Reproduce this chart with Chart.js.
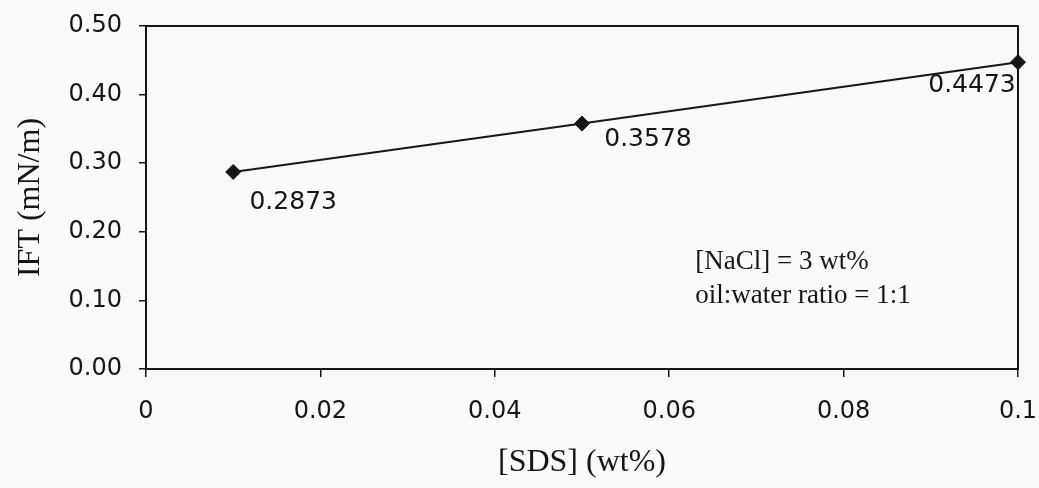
<!DOCTYPE html>
<html>
<head>
<meta charset="utf-8">
<script src="https://cdn.jsdelivr.net/npm/chart.js@4.4.1/dist/chart.umd.min.js"></script>
<style>
  html, body { margin: 0; padding: 0; background: #f9f9f9; }
  #wrap { width: 1039px; height: 488px; position: relative; }
</style>
</head>
<body>
<div id="wrap"><canvas id="c" width="1039" height="488"></canvas></div>
<script>
// SDS concentration (wt%) and measured interfacial tension (mN/m)
const sdsConc = [0.01, 0.05, 0.1];
const iftValues = [0.2873, 0.3578, 0.4473];

// Axis ticks
const xTickValues = [0, 0.02, 0.04, 0.06, 0.08, 0.1];
const xTickLabels = ['0', '0.02', '0.04', '0.06', '0.08', '0.1'];
const yTickValues = [0, 0.1, 0.2, 0.3, 0.4, 0.5];
const yTickLabels = ['0.00', '0.10', '0.20', '0.30', '0.40', '0.50'];

// Condition notes
const noteLines = ['[NaCl] = 3 wt%', 'oil:water ratio = 1:1'];

const INK = '#161616';

// Frame around the plot area (top and right edges included)
const frame = {
  id: 'frame',
  afterDatasetsDraw(chart) {
    const { ctx, chartArea: a } = chart;
    ctx.save();
    ctx.strokeStyle = INK;
    ctx.lineWidth = 2;
    ctx.strokeRect(a.left, a.top, a.right - a.left, a.bottom - a.top);
    ctx.restore();
  }
};

// Value labels next to each point
const valueLabels = {
  id: 'valueLabels',
  afterDatasetsDraw(chart, args, opts) {
    const { ctx } = chart;
    const meta = chart.getDatasetMeta(0);
    ctx.save();
    ctx.font = opts.font;
    ctx.fillStyle = INK;
    ctx.textAlign = 'center';
    ctx.textBaseline = 'middle';
    meta.data.forEach((pt, i) => {
      const v = chart.data.datasets[0].data[i].y;
      const [dx, dy] = opts.offsets[i];
      ctx.fillText(v.toFixed(4), pt.x + dx, pt.y + dy);
    });
    ctx.restore();
  }
};

// Experimental conditions note inside the plot
const note = {
  id: 'note',
  afterDatasetsDraw(chart, args, opts) {
    const { ctx, scales } = chart;
    const x = scales.x.getPixelForValue(opts.x);
    const y = scales.y.getPixelForValue(opts.y);
    ctx.save();
    ctx.font = opts.font;
    ctx.fillStyle = INK;
    ctx.textAlign = 'left';
    ctx.textBaseline = 'alphabetic';
    noteLines.forEach((t, i) => ctx.fillText(t, x, y + i * opts.lineGap));
    ctx.restore();
  }
};

new Chart(document.getElementById('c'), {
  type: 'scatter',
  data: {
    datasets: [{
      data: sdsConc.map((x, i) => ({ x, y: iftValues[i] })),
      showLine: true,
      borderColor: INK,
      borderWidth: 2,
      backgroundColor: INK,
      pointStyle: 'rectRot',
      pointRadius: 7.5,
      pointBorderWidth: 1,
      pointBorderColor: INK,
      pointBackgroundColor: INK,
      tension: 0,
      clip: false
    }]
  },
  options: {
    responsive: false,
    animation: false,
    devicePixelRatio: 1,
    layout: { padding: { top: 26, right: 21, left: 0, bottom: 0 } },
    plugins: {
      legend: { display: false },
      tooltip: { enabled: false },
      valueLabels: {
        font: '25px "DejaVu Sans"',
        offsets: [[60, 31], [66, 16], [-46, 23]]
      },
      note: {
        x: 0.063, y: 0.146, lineGap: 34,
        font: '27px "Liberation Serif"'
      }
    },
    scales: {
      x: {
        type: 'linear',
        min: 0, max: 0.1,
        afterBuildTicks: s => { s.ticks = xTickValues.map(v => ({ value: v })); },
        afterFit: s => { s.height = 119; s.paddingLeft = 0; s.paddingRight = 0; },
        ticks: {
          color: INK,
          font: { family: 'DejaVu Sans', size: 24 },
          padding: 20,
          maxRotation: 0,
          autoSkip: false,
          callback: (v, i) => xTickLabels[i]
        },
        grid: { drawOnChartArea: false, drawTicks: true, tickLength: 8, color: INK, lineWidth: 1.5 },
        border: { display: true, color: INK, width: 2 },
        title: {
          display: true,
          text: '[SDS] (wt%)',
          color: INK,
          font: { family: 'Liberation Serif', size: 32 },
          padding: { top: 0, bottom: 6 }
        }
      },
      y: {
        type: 'linear',
        min: 0, max: 0.5,
        afterBuildTicks: s => { s.ticks = yTickValues.map(v => ({ value: v })); },
        afterFit: s => { s.width = 146; s.paddingTop = 0; s.paddingBottom = 0; },
        ticks: {
          color: INK,
          font: { family: 'DejaVu Sans', size: 24 },
          padding: 17,
          autoSkip: false,
          callback: (v, i) => yTickLabels[i]
        },
        grid: { drawOnChartArea: false, drawTicks: true, tickLength: 7, color: INK, lineWidth: 1.5 },
        border: { display: true, color: INK, width: 2 },
        title: {
          display: true,
          text: 'IFT (mN/m)',
          color: INK,
          font: { family: 'Liberation Serif', size: 32 },
          padding: { top: 11, bottom: 0 }
        }
      }
    }
  },
  plugins: [frame, valueLabels, note]
});
</script>
</body>
</html>
